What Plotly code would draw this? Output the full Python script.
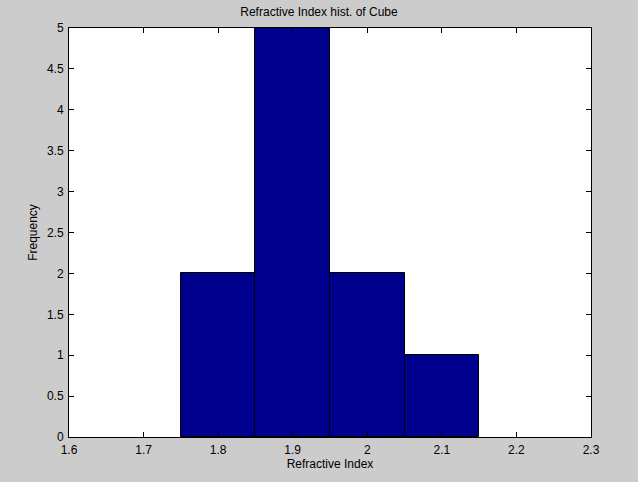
import plotly.graph_objects as go

bin_centers = [1.8, 1.9, 2.0, 2.1]
counts = [2, 5, 2, 1]
bin_width = 0.1
x_ticks = [1.6, 1.7, 1.8, 1.9, 2.0, 2.1, 2.2, 2.3]
x_tick_labels = ["1.6", "1.7", "1.8", "1.9", "2", "2.1", "2.2", "2.3"]
y_ticks = [0, 0.5, 1, 1.5, 2, 2.5, 3, 3.5, 4, 4.5, 5]
y_tick_labels = ["0", "0.5", "1", "1.5", "2", "2.5", "3", "3.5", "4", "4.5", "5"]

fig = go.Figure(go.Bar(
    x=bin_centers, y=counts, width=bin_width,
    marker=dict(color="#00008f", line=dict(color="black", width=1)),
))

font = dict(family="Liberation Sans, Arial", size=12, color="black")
axis_common = dict(
    showgrid=False, zeroline=False, showline=True, linecolor="black", linewidth=1,
    mirror="ticks", ticks="inside", ticklen=5, tickcolor="black",
    tickfont=font,
)
fig.update_layout(
    width=638, height=482,
    paper_bgcolor="#cccccc", plot_bgcolor="white",
    margin=dict(l=69, r=47, t=28, b=45),
    showlegend=False,
    title=dict(text="Refractive Index hist. of Cube", x=0.5, xanchor="center",
               y=0.985, yanchor="top", font=font),
    xaxis=dict(range=[1.6, 2.3], tickvals=x_ticks, ticktext=x_tick_labels,
               ticklabelstandoff=2,
               title=dict(text="Refractive Index", standoff=3, font=font),
               **axis_common),
    yaxis=dict(range=[0, 5], tickvals=y_ticks, ticktext=y_tick_labels,
               ticklabelstandoff=2,
               title=dict(text="Frequency", standoff=6, font=font),
               **axis_common),
    bargap=0,
)
fig.write_html(
    "out.html",
    config={"displayModeBar": False},
    post_script="document.body.style.margin='0';document.body.style.background='#cccccc';",
)
